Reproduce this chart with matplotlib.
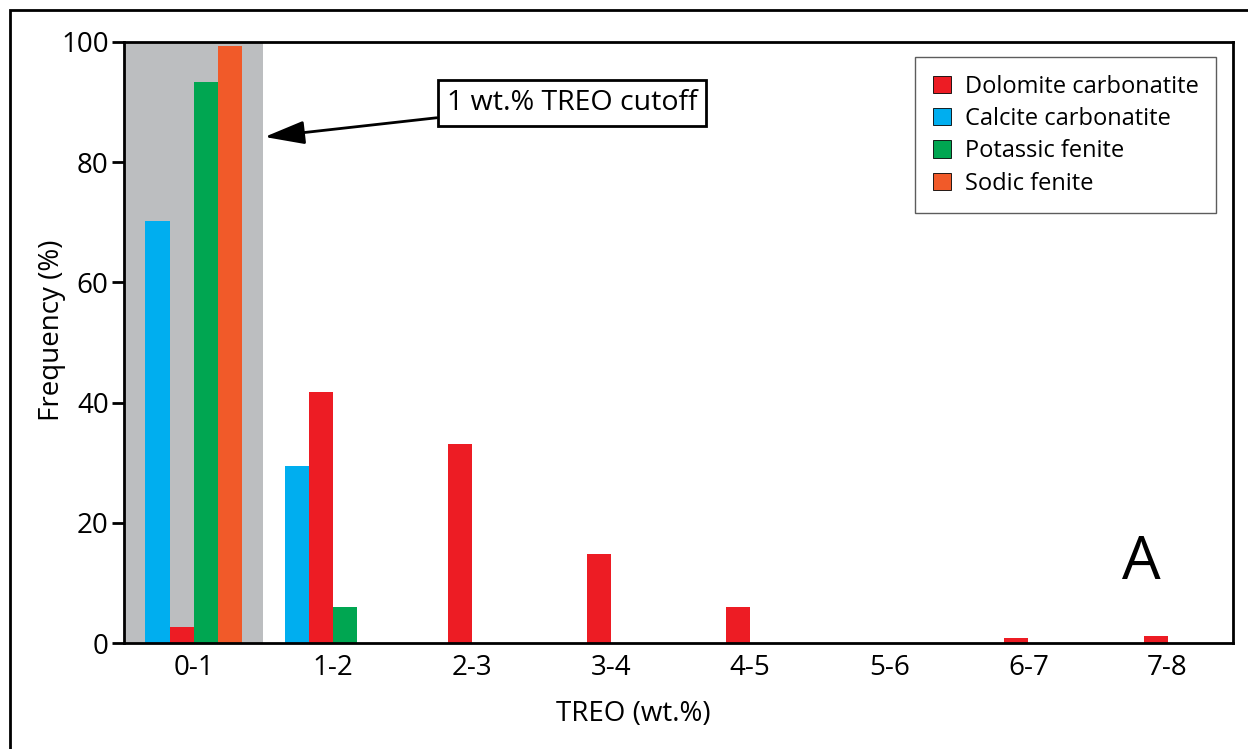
import numpy as np
import matplotlib.pyplot as plt
from matplotlib.patches import Rectangle

plt.rcParams['font.family'] = ['Open Sans', 'DejaVu Sans']

bins = ['0-1', '1-2', '2-3', '3-4', '4-5', '5-6', '6-7', '7-8']
dolomite = [2.6, 41.8, 33.1, 14.8, 6.0, 0.0, 0.8, 1.2]
calcite = [70.2, 29.4, 0, 0, 0, 0, 0, 0]
potassic = [93.3, 6.0, 0, 0, 0, 0, 0, 0]
sodic = [99.3, 0, 0, 0, 0, 0, 0, 0]

series = [
    ('Calcite carbonatite', calcite, '#00AEEF', -2),
    ('Dolomite carbonatite', dolomite, '#ED1C24', -1),
    ('Potassic fenite', potassic, '#00A651', 0),
    ('Sodic fenite', sodic, '#F15A29', 1),
]

fig = plt.figure(figsize=(12.48, 7.49), dpi=100)
ax = fig.add_axes([124 / 1248, 106 / 749, 1109 / 1248, 601 / 749])

# outer frame (cropped at right and bottom)
fig.patches.append(Rectangle((10 / 1248, -0.1), 1.2, (749 - 10) / 749 + 0.1,
                             transform=fig.transFigure, fill=False,
                             edgecolor='black', linewidth=2))

x = np.arange(len(bins))
w = 0.173
ax.axvspan(-0.6, 0.497, color='#BCBEC0', zorder=0, linewidth=0)

handles = {}
for name, vals, col, off in series:
    h = ax.bar(x + off * w, vals, width=w, align='edge', color=col, zorder=2)
    handles[name] = h

ax.set_xlim(-0.5, 7.47)
ax.set_ylim(0, 100)
ax.set_xticks(x)
ax.set_xticklabels(bins)
ax.set_yticks([0, 20, 40, 60, 80, 100])
ax.tick_params(axis='x', length=0, pad=8, labelsize=20)
ax.tick_params(axis='y', length=9, width=2, pad=2, labelsize=20, direction='out')
for s in ax.spines.values():
    s.set_linewidth(2)

ax.set_xlabel('TREO (wt.%)', fontsize=20)
ax.xaxis.set_label_coords(0.459, -0.095)
ax.set_ylabel('Frequency (%)', fontsize=20)
ax.yaxis.set_label_coords(-0.052, 0.52)

order = ['Dolomite carbonatite', 'Calcite carbonatite', 'Potassic fenite', 'Sodic fenite']
leg = ax.legend([handles[n] for n in order], order, loc='upper right',
                bbox_to_anchor=(0.985, 0.975), fontsize=17, frameon=True,
                fancybox=False, edgecolor='#333333', handlelength=0.75,
                handleheight=0.75, handletextpad=0.6, labelspacing=0.35,
                borderpad=0.75, borderaxespad=0)
leg.get_frame().set_linewidth(1)
for p in leg.get_patches():
    p.set_edgecolor('black')
    p.set_linewidth(0.6)

ax.annotate('1 wt.% TREO cutoff', xy=(0.51, 84.2), xytext=(2.72, 89.9),
            ha='center', va='center', fontsize=20.5,
            bbox=dict(boxstyle='square,pad=0.32', fc='white', ec='black', lw=2),
            arrowprops=dict(arrowstyle='-|>,head_length=1.2,head_width=0.35',
                        color='black', lw=2, shrinkA=0, shrinkB=0))

ax.text(6.81, 13.3, 'A', fontsize=44, ha='center', va='center')

fig.savefig('out.png', dpi=100)
